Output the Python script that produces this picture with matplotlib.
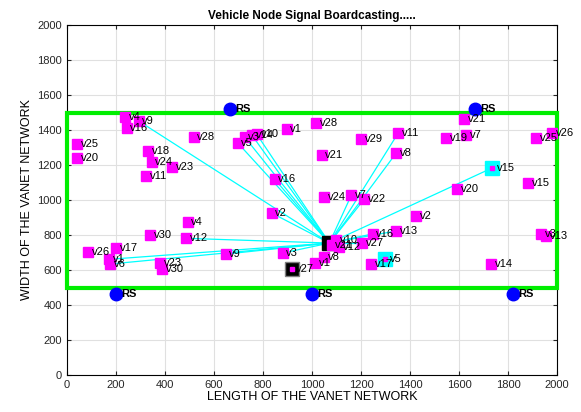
import matplotlib
matplotlib.use("Agg")
import matplotlib.pyplot as plt
from matplotlib.patches import Rectangle

plt.rcParams['font.family'] = ['Liberation Sans', 'DejaVu Sans']

# veicoli (nome, x, y)
veh_names = ['v4', 'v9', 'v16', 'v25', 'v20', 'v18', 'v24', 'v11', 'v23', 'v28',
             'v5', 'v3', 'v14', 'v10', 'v1', 'v28', 'v29', 'v21', 'v11', 'v8',
             'v16', 'v24', 'v7', 'v22', 'v2', 'v21', 'v19', 'v7', 'v26', 'v25',
             'v15', 'v20', 'v2', 'v4', 'v30', 'v12', 'v26', 'v17', 'v1', 'v6',
             'v23', 'v30', 'v9', 'v3', 'v8', 'v1', 'v27', 'v16', 'v13', 'v17',
             'v14', 'v3', 'v13', 'v10', 'v12', 'v21']
veh_x = [236, 293, 244, 41, 41, 330, 346, 322, 428, 517,
         697, 725, 755, 775, 896, 1018, 1202, 1039, 1352, 1344,
         847, 1051, 1161, 1214, 835, 1621, 1548, 1629, 1980, 1914,
         1882, 1593, 1425, 493, 338, 485, 86, 200, 171, 175,
         379, 387, 648, 880, 1051, 1014, 1205, 1247, 1343, 1242,
         1731, 1935, 1955, 1100, 1110, 1080]
veh_y = [1474, 1451, 1411, 1320, 1240, 1280, 1217, 1137, 1189, 1360,
         1326, 1360, 1370, 1375, 1406, 1440, 1349, 1257, 1383, 1269,
         1120, 1017, 1029, 1006, 926, 1463, 1354, 1371, 1383, 1354,
         1097, 1063, 909, 874, 800, 781, 701, 724, 661, 634,
         640, 606, 691, 697, 674, 640, 754, 806, 823, 634,
         634, 806, 794, 770, 730, 745]

# road side unit
rs_x = [665, 1665, 200, 1000, 1820]
rs_y = [1522, 1522, 463, 463, 463]

# nodo sorgente e nodi evidenziati
src_x, src_y = 1071, 754
cyan_names = ['v15', 'v5']
cyan_x = [1735, 1299]
cyan_y = [1183, 663]
black_name, black_x, black_y = 'v27', 920, 606

# collegamenti dal nodo sorgente (indici nei veicoli)
link_idx = [1, 10, 11, 12, 13, 20, 24, 35, 42, 38, 39, 43,
            18, 19, 22, 23, 48, 47, 46]

fig = plt.figure(figsize=(5.81, 4.12), dpi=100)
ax = fig.add_axes([0.1153, 0.0898, 0.8434, 0.8495])

# linee di broadcast
for i in link_idx:
    ax.plot([src_x, veh_x[i]], [src_y, veh_y[i]], color='cyan', lw=0.9, zorder=2)
ax.plot([src_x, cyan_x[0]], [src_y, cyan_y[0]], color='cyan', lw=0.9, zorder=2)

# rettangolo verde della strada
ax.add_patch(Rectangle((0, 500), 2000, 1000, fill=False, edgecolor='#00ee00',
                       lw=3, zorder=3, clip_on=False))

for x, y in zip(rs_x, rs_y):
    ax.plot(x, y, 'o', color='blue', ms=9, zorder=4)
    ax.text(x + 20, y, 'RS', fontsize=8, fontweight='bold', va='center', zorder=6)

for x, y, n in zip(cyan_x, cyan_y, cyan_names):
    ax.plot(x, y, 's', color='cyan', ms=10, zorder=4)
    ax.plot(x, y, 's', color='magenta', ms=2.5, zorder=5)
    ax.text(x + 20, y, n, fontsize=8, va='center', zorder=6)

ax.plot(black_x, black_y, 's', mfc='black', mec='gray', ms=10, zorder=4)
ax.plot(black_x, black_y, 's', color='magenta', ms=2.5, zorder=5)
ax.plot(src_x, src_y, 's', color='black', ms=10, zorder=4)

for x, y, n in zip(veh_x, veh_y, veh_names):
    ax.plot(x, y, 's', color='magenta', ms=6.5, zorder=5)
    ax.text(x + 15, y, n, fontsize=8, va='center', zorder=6)
ax.text(black_x + 15, black_y, black_name, fontsize=8, va='center', zorder=6)

ax.set_xlim(0, 2000)
ax.set_ylim(0, 2000)
ax.set_xticks(range(0, 2001, 200))
ax.set_yticks(range(0, 2001, 200))
ax.tick_params(direction='in', labelsize=8, length=3, top=True, right=True,
               labeltop=False, labelright=False, colors='#262626')
ax.grid(True, color='#e0e0e0', lw=0.8)
ax.set_axisbelow(True)
ax.set_title('Vehicle Node Signal Boardcasting.....', fontsize=8.5,
             fontweight='bold', pad=4)
ax.set_xlabel('LENGTH OF THE VANET NETWORK', fontsize=9, labelpad=1)
ax.set_ylabel('WIDTH OF THE VANET NETWORK', fontsize=9, labelpad=3)

fig.savefig('out.png', dpi=100)
